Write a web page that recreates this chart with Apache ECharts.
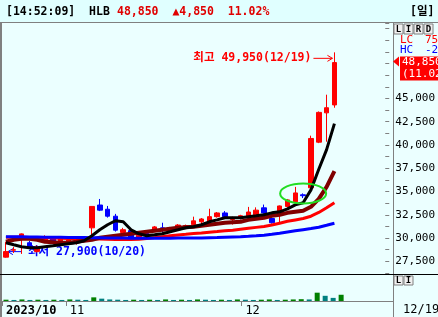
<!DOCTYPE html>
<html><head><meta charset="utf-8">
<script src="https://cdn.jsdelivr.net/npm/echarts@6/dist/echarts.min.js"></script>
<style>html,body{margin:0;padding:0;background:#ebffff;}#c{width:438px;height:317px;}</style>
</head><body><div id="c"></div><script>
const dates = ['10/20','10/23','10/24','10/25','10/26','10/27','10/30','10/31',
 '11/01','11/02','11/03','11/06','11/07','11/08','11/09','11/10','11/13','11/14','11/15','11/16','11/17',
 '11/20','11/21','11/22','11/23','11/24','11/27','11/28','11/29','11/30',
 '12/01','12/04','12/05','12/06','12/07','12/08','12/11','12/12','12/13','12/14','12/15','12/18','12/19'];
const opens  = [27950,28700,30150,29500,28550,29700,30000,29700,29600,29500,29800,31100,33550,33100,32350,30600,30800,30000,30500,30900,31100,30900,30900,31200,31450,31750,31750,32300,32700,32000,32100,32300,32500,33250,32100,32500,33400,33900,34650,35400,40300,43450,44300];
const closes = [28550,28750,30450,28950,29050,30150,29700,29900,29800,29850,30100,33400,33000,32350,30850,30900,29900,30300,30300,31200,30900,31100,31400,31350,31850,32050,32300,32700,32300,32150,32400,32800,33000,32700,31650,33450,34100,34850,34550,40700,43500,44000,48850];
const lows   = [27900,28400,28300,28900,28450,29500,29600,29500,29400,29300,29600,30000,32900,32200,30700,30400,29800,29900,30200,30800,30600,30800,30800,31100,31400,31500,31600,32200,32200,31450,32000,32200,32400,32600,31550,31650,33300,33800,34300,35000,40200,40350,44000];
const highs  = [29600,29050,30500,29700,29200,30300,30200,30100,30000,29900,30200,33400,34200,33450,32600,31100,30900,30400,30600,31300,31650,31200,31500,31450,32300,32150,33150,32800,32900,32300,32500,33350,33300,33600,32200,33500,34200,35500,34800,41000,43600,45400,49950];
const ma5   = [29500,29280,29070,28960,28960,29070,29170,29280,29390,29500,29710,30250,30890,31430,31860,31750,30890,30460,30250,30350,30460,30680,30890,31110,31210,31430,31750,31960,32180,32180,32180,32290,32390,32500,32710,32820,33140,33570,33790,35180,37400,39500,42300];
const ma20  = [29600,29820,29930,29930,29820,29600,29550,29500,29500,29600,29710,29820,30030,30140,30250,30350,30460,30570,30680,30780,30890,31000,31110,31160,31210,31320,31430,31530,31640,31700,31750,31960,32070,32180,32390,32500,32710,32820,32930,33360,34220,35500,37200];
const ma60  = [30100,30100,30080,30060,30050,30030,30000,29980,29960,29950,29930,29920,29900,29880,29860,29850,29850,29870,29950,30050,30150,30250,30330,30400,30480,30550,30630,30700,30780,30850,30950,31050,31150,31250,31400,31600,31800,31950,32100,32350,32750,33250,33800];
const ma120 = [30150,30140,30130,30120,30110,30100,30090,30080,30070,30060,30050,30040,30030,30020,30010,30000,29990,29980,29980,29980,29990,29990,30000,30000,30010,30020,30040,30060,30090,30120,30150,30190,30240,30310,30400,30520,30650,30780,30900,31020,31170,31380,31600];
const volumes = [5,4,6,4,5,4,5,4,6,5,4,14,9,6,5,4,5,4,5,4,6,4,5,4,6,5,4,5,4,6,5,4,5,6,4,5,6,7,6,32,20,12,24];
const priceTicks = [27500,30000,32500,35000,37500,40000,42500,45000];
const xTickIdx = [0, 8, 30];
const xTickText = ['2023/10', '11', '12'];
const blankSlots = 6;

const axisCats = dates.concat(new Array(blankSlots).fill(''));
const candles = dates.map((d, i) => [opens[i], closes[i], lows[i], highs[i]]);
const mono = '"DejaVu Sans Mono","Noto Sans CJK KR",monospace';

const chart = echarts.init(document.getElementById('c'));
const option = {
  animation: false,
  backgroundColor: '#ebffff',
  grid: [{left: 2, right: 45, top: 23, height: 250}, {left: 2, right: 45, top: 275, height: 26}],
  xAxis: [
    {type: 'category', data: axisCats, gridIndex: 0, boundaryGap: true, show: false},
    {type: 'category', data: axisCats, gridIndex: 1, boundaryGap: true,
     axisLine: {lineStyle: {color: '#808080'}},
     axisTick: {show: true, length: 5, interval: (i) => xTickIdx.includes(i), lineStyle: {color: '#808080'}},
     axisLabel: {interval: (i) => xTickIdx.includes(i), align: 'left', margin: 4, fontSize: 12, color: '#000', fontFamily: mono,
       formatter: (v, i) => { const k = xTickIdx.indexOf(i); if (k < 0) return ''; return k === 0 ? '{b|' + xTickText[k] + '}' : xTickText[k]; },
       rich: {b: {fontWeight: 'bold', fontSize: 12, fontFamily: mono, color: '#000'}}}}
  ],
  yAxis: [
    {type: 'value', gridIndex: 0, position: 'right', min: 26250, max: 53100, interval: 1250,
     axisLine: {show: false}, splitLine: {show: false},
     axisTick: {show: true, length: 4, lineStyle: {color: '#808080'}},
     axisLabel: {margin: 10, fontSize: 11, fontFamily: mono, color: '#000',
       formatter: (v) => priceTicks.includes(v) ? v.toLocaleString('en-US') : ''}},
    {type: 'value', gridIndex: 1, min: 0, max: 100, show: false}
  ],
  series: [
    {type: 'candlestick', xAxisIndex: 0, yAxisIndex: 0, data: candles, barWidth: 5, z: 2,
     itemStyle: {color: '#ff0000', color0: '#0000ff', borderColor: '#ff0000', borderColor0: '#0000ff', borderWidth: 1}},
    {type: 'line', data: ma60, symbol: 'none', z: 3, lineStyle: {color: '#ff0000', width: 3}},
    {type: 'line', data: ma20, symbol: 'none', z: 3, lineStyle: {color: '#800000', width: 4}},
    {type: 'line', data: ma120, symbol: 'none', z: 3, lineStyle: {color: '#0000ff', width: 3}},
    {type: 'line', data: ma5, symbol: 'none', z: 3, lineStyle: {color: '#000000', width: 3}},
    {type: 'bar', xAxisIndex: 1, yAxisIndex: 1, barWidth: 5,
     data: volumes.map((v, i) => ({value: v, itemStyle: {color: (i === 0 || v >= volumes[i - 1]) ? '#008000' : '#008080'}}))}
  ]
};
chart.setOption(option);

const px = (i, v) => chart.convertToPixel({gridIndex: 0}, [i, v]);
let hiIdx = 0, loIdx = 0;
highs.forEach((h, i) => { if (h > highs[hiIdx]) hiIdx = i; });
lows.forEach((l, i) => { if (l < lows[loIdx]) loIdx = i; });
const hi = px(hiIdx, highs[hiIdx]);
const lo = px(loIdx, lows[loIdx]);
const last = px(dates.length - 1, closes[closes.length - 1]);
const ell = px(38, 34800);
const fmt = (v) => v.toLocaleString('en-US');

function T(x, y, text, color, font, z, align) {
  return {type: 'text', x: x, y: y, z: z || 10, style: {text: text, fill: color, font: font, align: align || 'left', verticalAlign: 'middle'}};
}
function L(x1, y1, x2, y2, color, w, z) {
  return {type: 'line', z: z || 10, shape: {x1: x1, y1: y1, x2: x2, y2: y2}, style: {stroke: color, lineWidth: w || 1}};
}
const g = [];
// header
g.push({type: 'rect', z: 5, shape: {x: 0, y: 0, width: 438, height: 22}, style: {fill: '#e0ffff'}});
g.push(L(0, 22.5, 438, 22.5, '#808080', 1));
g.push(T(6, 12, '[14:52:09]  HLB', '#000', 'bold 11.5px ' + mono));
g.push(T(117, 12, '48,850  ▲4,850  11.02%', '#e00000', 'bold 11.5px ' + mono));
g.push(T(410, 12, '[일]', '#000', 'bold 11.5px ' + mono));
// borders
g.push({type: 'rect', z: 6, shape: {x: 0, y: 22, width: 2, height: 295}, style: {fill: '#808080'}});
g.push(L(393.5, 22, 393.5, 317, '#808080', 1));
g.push(L(0, 274.5, 438, 274.5, '#000000', 1));
// LIRD buttons
['L', 'I', 'R', 'D'].forEach((c, k) => {
  g.push({type: 'rect', z: 9, shape: {x: 394 + k * 10, y: 24, width: 9, height: 10}, style: {fill: '#f0f0f0', stroke: '#808080', lineWidth: 1}});
  g.push(T(398.5 + k * 10, 29.5, c, '#000', 'bold 9px ' + mono, 10, 'center'));
});
['L', 'I'].forEach((c, k) => {
  g.push({type: 'rect', z: 9, shape: {x: 394 + k * 10, y: 276, width: 9, height: 9}, style: {fill: '#f0f0f0', stroke: '#808080', lineWidth: 1}});
  g.push(T(398.5 + k * 10, 281, c, '#000', 'bold 9px ' + mono, 10, 'center'));
});
g.push(T(400, 40, 'LC', '#ff0000', '11px ' + mono));
g.push(T(425, 40, '75', '#ff0000', '11px ' + mono));
g.push(T(400, 50, 'HC', '#0000ff', '11px ' + mono));
g.push(T(425, 50, '-2', '#0000ff', '11px ' + mono));
// current price box
g.push({type: 'polygon', z: 10, shape: {points: [[393, last[1] - 1], [399, last[1] - 6], [399, last[1] + 4]]}, style: {fill: '#ff0000'}});
g.push({type: 'rect', z: 10, shape: {x: 400, y: last[1] - 6, width: 38, height: 24}, style: {fill: '#ff0000'}});
g.push(T(402, last[1], fmt(closes[closes.length - 1]), '#ffffff', '11px ' + mono, 11));
g.push(T(402, last[1] + 12, '(11.02%)', '#ffffff', '11px ' + mono, 11));
// x label on right panel
g.push(T(403, 310, dates[dates.length - 1], '#000', '12px ' + mono));
// high annotation
const hy = hi[1] + 6;
g.push(T(hi[0] - 23, hy, '최고 ' + fmt(highs[hiIdx]) + '(' + dates[hiIdx] + ')', '#ff0000', 'bold 11.5px ' + mono, 1, 'right'));
g.push(L(hi[0] - 21, hy, hi[0] - 2, hy, '#ff0000', 1, 1));
g.push({type: 'polyline', z: 1, shape: {points: [[hi[0] - 7, hy - 3], [hi[0] - 2, hy], [hi[0] - 7, hy + 3]]}, style: {stroke: '#ff0000', lineWidth: 1, fill: null}});
// low annotation
const ly = lo[1] - 6;
g.push(L(lo[0] + 2, ly, lo[0] + 16, ly, '#0000ff', 1, 1));
g.push({type: 'polyline', z: 1, shape: {points: [[lo[0] + 7, ly - 3], [lo[0] + 2, ly], [lo[0] + 7, ly + 3]]}, style: {stroke: '#0000ff', lineWidth: 1, fill: null}});
g.push(T(lo[0] + 22, ly, '최저 ' + fmt(lows[loIdx]) + '(' + dates[loIdx] + ')', '#0000ff', 'bold 11.5px ' + mono, 1));
// green ellipse
g.push({type: 'ellipse', z: 10, shape: {cx: ell[0], cy: ell[1], rx: 23, ry: 10}, style: {stroke: '#22dd22', lineWidth: 2, fill: null}});
chart.setOption({graphic: g});
</script></body></html>
